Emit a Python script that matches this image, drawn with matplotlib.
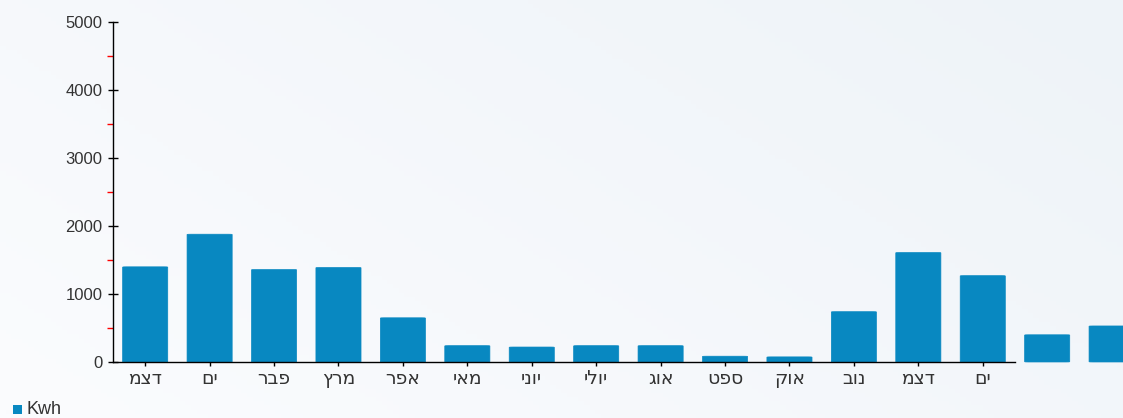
import matplotlib
matplotlib.use("Agg")
import matplotlib.pyplot as plt
from matplotlib.patches import FancyBboxPatch, Rectangle
import numpy as np

# Data (labels in logical Hebrew order)
months = ["דצמ", "ים", "פבר", "מרץ", "אפר", "מאי", "יוני", "יולי",
          "אוג", "ספט", "אוק", "נוב", "דצמ", "ים", "", ""]
kwh = [1400, 1880, 1360, 1390, 650, 240, 220, 240,
       240, 85, 75, 740, 1610, 1270, 400, 530]
yticks = [0, 1000, 2000, 3000, 4000, 5000]
series_name = "Kwh"

bar_color = "#0888c1"
plt.rcParams['font.family'] = ['Liberation Sans', 'DejaVu Sans']

fig = plt.figure(figsize=(11.23, 4.18), dpi=100)
fig.patch.set_facecolor("#f6f9fc")

# subtle background gradient
bg = fig.add_axes([0, 0, 1, 1], zorder=-10)
gx = np.linspace(0, 1, 200)
gy = np.linspace(0, 1, 100)
GX, GY = np.meshgrid(gx, gy)
grad = 0.5 * GX + 0.3 * (1 - GY)
bg.imshow(grad, cmap=matplotlib.colors.LinearSegmentedColormap.from_list(
    "bgc", ["#fbfcfe", "#eef3f8"]), aspect="auto", extent=[0, 1, 0, 1])
bg.axis("off")

ax = fig.add_axes([0.1006, 0.134, 0.8032, 0.813])
ax.patch.set_alpha(0)

n_axis = 14
x = np.arange(len(kwh))
width = 0.7
for xi, v in zip(x, kwh):
    p = FancyBboxPatch((xi - width / 2, 0), width, v,
                       boxstyle="round,pad=0,rounding_size=0.06",
                       mutation_aspect=60,
                       facecolor=bar_color, edgecolor=bar_color, linewidth=0.5,
                       clip_on=False, zorder=3)
    ax.add_patch(p)

ax.set_xlim(-0.5, n_axis - 0.5)
ax.set_ylim(0, 5000)

ax.set_xticks(x[:n_axis])
ax.set_xticklabels([m[::-1] for m in months[:n_axis]], fontsize=13.5,
                   color="#333333", family=["DejaVu Sans"])
ax.set_yticks(yticks)
ax.set_yticklabels([str(t) for t in yticks], fontsize=12, color="#333333")
ax.set_yticks(np.arange(500, 5000, 1000), minor=True)

ax.tick_params(axis="y", which="major", direction="inout", length=7, width=1,
               color="black", pad=4)
ax.tick_params(axis="y", which="minor", direction="out", length=4, width=1,
               color="red")
ax.tick_params(axis="x", which="major", direction="inout", length=6, width=1,
               color="black", pad=2)

for s in ["top", "right"]:
    ax.spines[s].set_visible(False)
for s in ["left", "bottom"]:
    ax.spines[s].set_color("black")
    ax.spines[s].set_linewidth(1)
    ax.spines[s].set_zorder(4)

# legend
fig.patches.append(Rectangle((13 / 1123, 1 - 414 / 418), 9 / 1123, 9 / 418,
                             transform=fig.transFigure, facecolor=bar_color,
                             edgecolor="none"))
fig.text(27 / 1123, 1 - 409 / 418, series_name, fontsize=13, color="#333333",
         va="center", ha="left")

fig.savefig("out.png", dpi=100, facecolor=fig.get_facecolor())
